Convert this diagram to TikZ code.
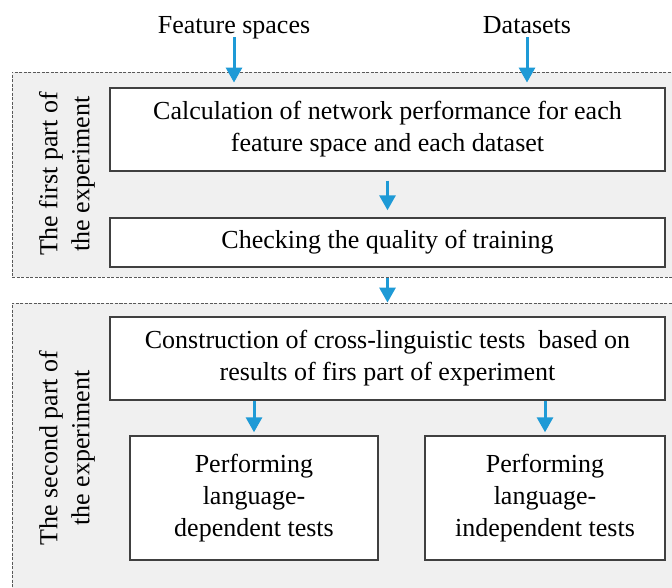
\documentclass[tikz,border=0pt]{standalone}
\usepackage{fontspec}
\setmainfont{Liberation Serif}
\usetikzlibrary{arrows.meta,positioning}
\definecolor{flowblue}{HTML}{1E9AD6}
\definecolor{panelgray}{HTML}{F0F0F0}

\begin{document}
\begin{tikzpicture}[
  x=1pt, y=1pt,
  font=\fontsize{26}{32}\selectfont,
  >={Triangle[length=15pt,width=16pt]},
  panel/.style={draw=black!65, line width=0.9pt, dash pattern=on 3pt off 1.5pt,
                fill=panelgray, minimum width=688pt, inner sep=0pt},
  box/.style={draw=black!75, line width=1.4pt, fill=white, align=center, inner sep=0pt},
  side/.style={rotate=90, align=center, inner sep=0pt},
  src/.style={text height=0.7em, text depth=0.25em},
  flow/.style={->, line width=3pt, draw=flowblue}
]
\clip (0,0) rectangle (672,-588);
\fill[white] (0,0) rectangle (672,-588);
% the two parts of the experiment
\node[panel, minimum height=205pt] (part1) at (356,-174.5) {};
\node[panel, minimum height=305pt] (part2) at (356,-455.5) {};
\node[side] (lab1) at (67,-174) {The first part of\\the experiment};
\node[side] (lab2) at (67,-448) {The second part of\\the experiment};
% inputs
\node[src] (feat) at (234,-31) {Feature spaces};
\node[src] (data) at (527,-31) {Datasets};
% steps
\node[box, minimum width=555pt, minimum height=83pt] (calc) at (387.5,-129.5)
  {Calculation of network performance for each\\feature space and each dataset};
\node[box, minimum width=555pt, minimum height=49pt] (check) at (387.5,-242.5)
  {Checking the quality of training};
\node[box, minimum width=555pt, minimum height=83pt] (constr) at (387.5,-358.5)
  {Construction of cross-linguistic tests~ based on\\results of firs part of experiment};
\node[box, minimum width=248pt, minimum height=124pt] (dep) at (254,-498)
  {Performing\\language-\\dependent tests};
\node[box, minimum width=240pt, minimum height=124pt] (indep) at (545,-498)
  {Performing\\language-\\independent tests};
% arrows
\draw[flow, shorten <=-2pt, shorten >=-11pt] (feat.south) -- (feat.south |- part1.north);
\draw[flow, shorten <=-2pt, shorten >=-11pt] (data.south) -- (data.south |- part1.north);
\draw[flow, shorten <=9pt, shorten >=7pt] (calc.south) -- (check.north);
\draw[flow, shorten <=1pt] (check.south |- part1.south) -- (check.south |- part2.north);
\draw[flow, shorten >=3pt] (dep.north |- constr.south) -- (dep.north);
\draw[flow, shorten >=3pt] (indep.north |- constr.south) -- (indep.north);
\end{tikzpicture}
\end{document}
